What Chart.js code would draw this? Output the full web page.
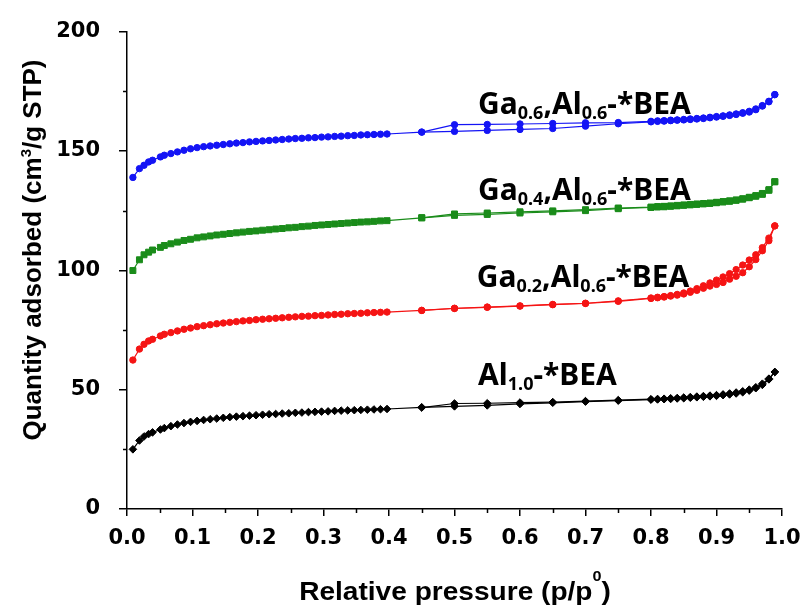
<!DOCTYPE html>
<html>
<head>
<meta charset="utf-8">
<script src="https://cdn.jsdelivr.net/npm/chart.js@4.4.1/dist/chart.umd.min.js"></script>
<style>
  html, body { margin: 0; padding: 0; background: #fff; }
  canvas { display: block; }
</style>
</head>
<body>
<canvas id="chart" width="804" height="611"></canvas>
<script>
// relative pressure points (p/p0), adsorption branch then desorption branch
const pAds = [0.009, 0.019, 0.026, 0.033, 0.039, 0.051, 0.057, 0.067, 0.077, 0.087,
  0.097, 0.107, 0.117, 0.127, 0.137, 0.147, 0.157, 0.167, 0.177, 0.187,
  0.197, 0.207, 0.217, 0.227, 0.237, 0.247, 0.257, 0.267, 0.277, 0.287,
  0.297, 0.307, 0.317, 0.327, 0.337, 0.347, 0.357, 0.367, 0.377, 0.387, 0.397,
  0.45, 0.50, 0.55, 0.60, 0.65, 0.70, 0.75, 0.80,
  0.81, 0.82, 0.83, 0.84, 0.85, 0.86, 0.87, 0.88, 0.89, 0.90,
  0.91, 0.92, 0.93, 0.94, 0.95, 0.96, 0.97, 0.98, 0.989];
const pDes = [0.989, 0.98, 0.97, 0.96, 0.95, 0.94, 0.93, 0.92, 0.91, 0.90,
  0.89, 0.88, 0.87, 0.86, 0.85, 0.84, 0.83, 0.82, 0.81, 0.80,
  0.75, 0.70, 0.65, 0.60, 0.55, 0.50, 0.45];

// Ga0.6,Al0.6-*BEA
const ga06Ads = [138.9, 142.6, 144.0, 145.4, 146.1, 147.5, 148.2, 148.9, 149.6, 150.3,
  150.9, 151.4, 151.8, 152.1, 152.4, 152.7, 153.0, 153.3, 153.5, 153.8,
  154.0, 154.2, 154.4, 154.6, 154.8, 155.0, 155.2, 155.3, 155.5, 155.6,
  155.8, 155.9, 156.1, 156.2, 156.4, 156.5, 156.7, 156.8, 156.9, 157.0, 157.1,
  157.9, 158.2, 158.6, 159.0, 159.4, 160.4, 161.4, 162.2,
  162.4, 162.5, 162.7, 162.9, 163.0, 163.2, 163.4, 163.6, 163.9, 164.2,
  164.5, 164.9, 165.3, 165.8, 166.3, 167.3, 168.8, 170.6, 173.6];
const ga06Des = [173.6, 170.8, 169.0, 167.6, 166.6, 166.0, 165.5, 165.1, 164.7, 164.4,
  164.1, 163.8, 163.6, 163.4, 163.2, 163.0, 162.9, 162.7, 162.6, 162.4,
  161.9, 161.8, 161.5, 161.3, 161.1, 161.0, 157.9];

// Ga0.4,Al0.6-*BEA
const ga04Ads = [99.9, 104.4, 106.5, 107.6, 108.5, 109.6, 110.4, 111.1, 111.8, 112.5,
  113.0, 113.6, 114.0, 114.4, 114.8, 115.1, 115.4, 115.7, 116.0, 116.3,
  116.5, 116.8, 117.0, 117.3, 117.5, 117.8, 118.0, 118.3, 118.5, 118.8,
  119.0, 119.2, 119.4, 119.6, 119.8, 120.0, 120.2, 120.3, 120.5, 120.7, 120.8,
  122.0, 123.0, 123.4, 124.0, 124.5, 125.0, 125.8, 126.3,
  126.5, 126.6, 126.8, 127.0, 127.2, 127.4, 127.6, 127.8, 128.0, 128.3,
  128.6, 128.9, 129.3, 129.8, 130.4, 131.0, 131.8, 133.5, 137.1];
const ga04Des = [137.1, 133.8, 132.2, 131.3, 130.6, 130.0, 129.5, 129.1, 128.8, 128.5,
  128.2, 128.0, 127.8, 127.6, 127.4, 127.2, 127.0, 126.8, 126.7, 126.5,
  126.1, 125.4, 124.9, 124.5, 124.0, 123.6, 122.0];

// Ga0.2,Al0.6-*BEA
const ga02Ads = [62.4, 67.0, 69.0, 70.4, 71.1, 72.5, 73.2, 73.9, 74.6, 75.3,
  75.8, 76.4, 76.8, 77.2, 77.6, 77.9, 78.2, 78.5, 78.8, 79.0,
  79.3, 79.5, 79.7, 79.9, 80.1, 80.3, 80.5, 80.7, 80.8, 81.0,
  81.1, 81.3, 81.5, 81.6, 81.8, 81.9, 82.0, 82.2, 82.3, 82.4, 82.5,
  83.2, 84.0, 84.5, 85.0, 85.6, 86.1, 87.0, 88.2,
  88.5, 88.8, 89.2, 89.6, 90.1, 90.8, 91.6, 92.5, 93.4, 94.1,
  94.9, 96.3, 97.5, 99.0, 101.5, 104.5, 108.2, 112.4, 118.6];
const ga02Des = [118.6, 113.5, 109.5, 106.5, 104.3, 102.2, 100.3, 98.6, 97.2, 95.9,
  94.7, 93.5, 92.3, 91.3, 90.5, 89.9, 89.4, 89.0, 88.7, 88.4,
  87.2, 86.2, 85.7, 85.1, 84.6, 84.1, 83.2];

// Al1.0-*BEA
const al10Ads = [25.0, 28.7, 30.4, 31.4, 32.1, 33.3, 33.9, 34.7, 35.4, 36.0,
  36.5, 36.9, 37.3, 37.6, 37.9, 38.2, 38.5, 38.7, 38.9, 39.1,
  39.3, 39.5, 39.7, 39.8, 40.0, 40.1, 40.3, 40.4, 40.6, 40.7,
  40.8, 40.9, 41.1, 41.2, 41.3, 41.4, 41.5, 41.6, 41.7, 41.8, 41.9,
  42.6, 43.0, 43.4, 44.0, 44.5, 45.0, 45.4, 45.8,
  45.9, 46.0, 46.1, 46.3, 46.4, 46.6, 46.8, 47.0, 47.2, 47.4,
  47.7, 48.0, 48.4, 48.9, 49.6, 50.6, 52.0, 54.3, 57.4];
const al10Des = [57.4, 54.6, 52.5, 51.0, 50.0, 49.3, 48.8, 48.4, 48.0, 47.7,
  47.5, 47.3, 47.1, 46.9, 46.7, 46.5, 46.4, 46.2, 46.1, 46.0,
  45.6, 45.2, 44.8, 44.6, 44.3, 44.2, 42.5];

const xTicks = [0, 0.1, 0.2, 0.3, 0.4, 0.5, 0.6, 0.7, 0.8, 0.9, 1.0];
const yTicks = [0, 50, 100, 150, 200];

// sample labels: [text, isSubscript] pieces, anchored at (p/p0, quantity)
const seriesLabels = [
  { at: [0.536, 165.5], parts: [['Ga', 0], ['0.6', 1], [',Al', 0], ['0.6', 1], ['-*BEA', 0]] },
  { at: [0.536, 129.5], parts: [['Ga', 0], ['0.4', 1], [',Al', 0], ['0.6', 1], ['-*BEA', 0]] },
  { at: [0.534, 92.9], parts: [['Ga', 0], ['0.2', 1], [',Al', 0], ['0.6', 1], ['-*BEA', 0]] },
  { at: [0.536, 52.1], parts: [['Al', 0], ['1.0', 1], ['-*BEA', 0]] }
];

const toPoints = (xs, ys) => xs.map((x, i) => ({ x: x, y: ys[i] }));

function branch(xs, ys, color, style, radius) {
  return {
    data: toPoints(xs, ys),
    showLine: true,
    borderColor: color,
    backgroundColor: color,
    borderWidth: 1.2,
    pointStyle: style,
    pointRadius: radius,
    pointBorderWidth: 1,
    pointBorderColor: color,
    pointBackgroundColor: color
  };
}

const BLUE = '#1414f5';
const GREEN = '#1a8c1a';
const RED = '#f51414';
const BLACK = '#000000';

// draws a run of text pieces with sub/superscripts
function drawPieces(ctx, pieces, family, x, y, centered) {
  let total = 0;
  pieces.forEach(p => {
    ctx.font = 'bold ' + p.size + 'px ' + family;
    p.w = ctx.measureText(p.t).width;
    total += p.w;
  });
  let cx = centered ? x - total / 2 : x;
  pieces.forEach(p => {
    ctx.font = 'bold ' + p.size + 'px ' + family;
    ctx.fillText(p.t, cx, y + p.dy);
    cx += p.w;
  });
}

const decorPlugin = {
  id: 'decor',
  afterDraw(chart) {
    const ctx = chart.ctx;
    const xs = chart.scales.x;
    const ys = chart.scales.y;
    const area = chart.chartArea;

    ctx.save();
    ctx.strokeStyle = '#000';
    ctx.lineWidth = 1.5;
    ctx.beginPath();
    // minor ticks
    for (let i = 0; i < xTicks.length - 1; i++) {
      const px = Math.round(xs.getPixelForValue((xTicks[i] + xTicks[i + 1]) / 2)) + 0.5;
      ctx.moveTo(px, area.bottom);
      ctx.lineTo(px, area.bottom + 4);
    }
    for (let i = 0; i < yTicks.length - 1; i++) {
      const py = Math.round(ys.getPixelForValue((yTicks[i] + yTicks[i + 1]) / 2)) + 0.5;
      ctx.moveTo(area.left, py);
      ctx.lineTo(area.left - 4, py);
    }
    ctx.stroke();

    ctx.fillStyle = '#000';
    ctx.textBaseline = 'alphabetic';

    // sample labels
    seriesLabels.forEach(lab => {
      const px = xs.getPixelForValue(lab.at[0]);
      const py = ys.getPixelForValue(lab.at[1]);
      const pieces = lab.parts.map(p => ({ t: p[0], size: p[1] ? 18 : 30, dy: p[1] ? 5 : 0 }));
      drawPieces(ctx, pieces, '"Noto Sans", sans-serif', px, py, false);
    });

    // x axis title
    ctx.save();
    ctx.translate(455, 600);
    ctx.scale(1.08, 1);
    drawPieces(ctx, [
      { t: 'Relative pressure (p/p', size: 26, dy: 0 },
      { t: '0', size: 15, dy: -19 },
      { t: ')', size: 26, dy: 0 }
    ], '"Liberation Sans", Arial, sans-serif', 0, 0, true);
    ctx.restore();

    // y axis title
    ctx.save();
    ctx.translate(41, 250);
    ctx.rotate(-Math.PI / 2);
    drawPieces(ctx, [
      { t: 'Quantity adsorbed (cm', size: 26, dy: 0 },
      { t: '3', size: 15, dy: -10 },
      { t: '/g STP)', size: 26, dy: 0 }
    ], '"Liberation Sans", Arial, sans-serif', 0, 0, true);
    ctx.restore();

    ctx.restore();
  }
};

new Chart(document.getElementById('chart'), {
  type: 'scatter',
  data: {
    datasets: [
      branch(pAds, al10Ads, BLACK, 'rectRot', 3.8),
      branch(pDes, al10Des, BLACK, 'rectRot', 3.8),
      branch(pAds, ga02Ads, RED, 'circle', 3.2),
      branch(pDes, ga02Des, RED, 'circle', 3.2),
      branch(pAds, ga04Ads, GREEN, 'rect', 4.2),
      branch(pDes, ga04Des, GREEN, 'rect', 4.2),
      branch(pAds, ga06Ads, BLUE, 'circle', 3.2),
      branch(pDes, ga06Des, BLUE, 'circle', 3.2)
    ]
  },
  options: {
    responsive: false,
    animation: false,
    devicePixelRatio: 1,
    layout: { padding: { top: 29, right: 0, left: 0, bottom: 0 } },
    plugins: {
      legend: { display: false },
      tooltip: { enabled: false }
    },
    scales: {
      x: {
        type: 'linear',
        min: xTicks[0],
        max: xTicks[xTicks.length - 1],
        afterFit: s => { s.height = 102; s.paddingRight = 22; },
        afterBuildTicks: s => { s.ticks = xTicks.map(v => ({ value: v })); },
        ticks: {
          padding: 10,
          color: '#000',
          font: { family: '"DejaVu Sans", sans-serif', size: 21, weight: 'bold' },
          callback: v => v.toFixed(1),
          maxRotation: 0,
          autoSkip: false
        },
        grid: { drawOnChartArea: false, drawTicks: true, tickLength: 7, color: '#000', lineWidth: 1.5 },
        border: { display: true, color: '#000', width: 1.5 }
      },
      y: {
        type: 'linear',
        min: yTicks[0],
        max: yTicks[yTicks.length - 1],
        afterFit: s => { s.width = 127; },
        afterBuildTicks: s => { s.ticks = yTicks.map(v => ({ value: v })); },
        ticks: {
          padding: 19,
          color: '#000',
          font: { family: '"DejaVu Sans", sans-serif', size: 21, weight: 'bold' },
          callback: v => String(v),
          autoSkip: false
        },
        grid: { drawOnChartArea: false, drawTicks: true, tickLength: 8, color: '#000', lineWidth: 1.5 },
        border: { display: true, color: '#000', width: 1.5 }
      }
    }
  },
  plugins: [decorPlugin]
});
</script>
</body>
</html>
